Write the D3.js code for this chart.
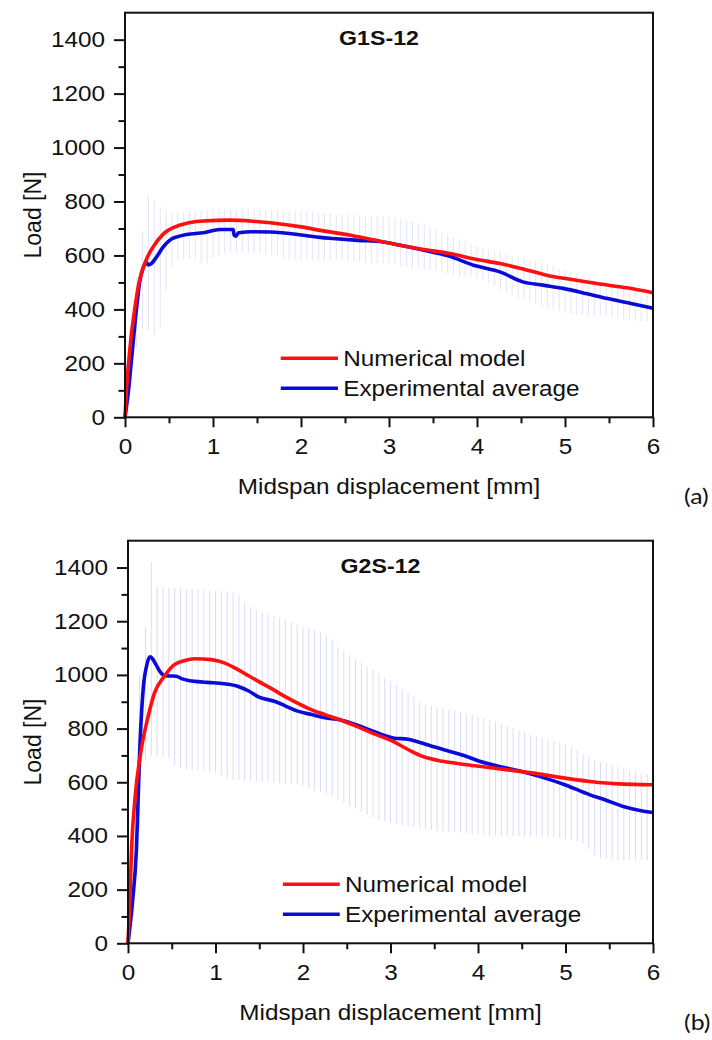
<!DOCTYPE html>
<html>
<head>
<meta charset="utf-8">
<script src="https://cdn.jsdelivr.net/npm/d3@7"></script>
<style>
  html, body { margin: 0; padding: 0; background: #fff; }
  svg { display: block; }
</style>
</head>
<body>
<svg id="chart"></svg>
<script>
// ---- data ----
// error bars: one bar every 1/15 mm, from 1/15 to 6 mm
const barStep = 1 / 15;

// panel (a) G1S-12
const a_hi = [
  290, 520, 690, 820, 800, 780, 770, 760, 758, 762, 765, 766, 768, 770, 772,
  770, 772, 770, 768, 770, 772, 770, 771, 770, 768, 768, 767, 766, 765, 764,
  763, 762, 760, 758, 756, 754, 752, 750, 749, 748, 747, 746, 745, 744, 742,
  738, 735, 731, 726, 722, 714, 706, 698, 688, 676, 668, 660, 652, 642, 634,
  628, 624, 618, 612, 606, 600, 596, 592, 586, 580, 572, 566, 560, 552, 546,
  540, 534, 526, 518, 510, 504, 498, 492, 486, 480, 472, 466, 460, 452, 446
];
const a_lo = [
  110, 260, 330, 320, 310, 330, 470, 560, 580, 585, 590, 585, 575, 570, 590,
  600, 605, 612, 610, 612, 608, 610, 606, 604, 600, 596, 590, 586, 582, 582,
  584, 583, 582, 584, 584, 583, 582, 580, 578, 576, 575, 574, 572, 571, 570,
  567, 563, 558, 554, 550, 548, 546, 544, 540, 534, 528, 524, 522, 520, 518,
  512, 500, 488, 475, 462, 452, 442, 436, 430, 422, 414, 406, 398, 392, 386,
  384, 382, 380, 378, 376, 375, 373, 372, 368, 364, 360, 358, 356, 355, 354
];
const a_modelX = [0, 0.02, 0.04, 0.07, 0.11, 0.16, 0.24, 0.32, 0.44, 0.62, 0.89, 1.19, 1.45, 1.65, 2.0, 2.22, 2.56, 2.9, 3.12, 3.4, 3.69, 4.0, 4.26, 4.5, 4.79, 5.08, 5.36, 5.7, 6.0];
const a_modelY = [0, 120, 200, 300, 400, 500, 583, 632, 681, 712, 728, 731, 727, 721, 706, 693, 675, 653, 638, 622, 607, 585, 570, 552, 527, 511, 496, 480, 462];
const a_expX = [0, 0.04, 0.07, 0.13, 0.17, 0.2, 0.24, 0.265, 0.3, 0.36, 0.43, 0.51, 0.6, 0.7, 0.89, 1.08, 1.23, 1.24, 1.26, 1.29, 1.45, 1.65, 2.03, 2.22, 2.36, 2.65, 2.93, 3.1, 3.31, 3.5, 3.69, 3.96, 4.03, 4.26, 4.52, 4.75, 4.98, 5.25, 5.47, 5.75, 6.0];
const a_expY = [0, 100, 200, 400, 508, 548, 575, 565, 570, 595, 630, 657, 670, 678, 684, 696, 696, 675, 671, 684, 688, 687, 675, 667, 663, 656, 650, 640, 626, 612, 597, 564, 558, 539, 502, 490, 478, 458, 441, 422, 404];

// panel (b) G2S-12
const b_hi = [
  480, 1000, 1180, 1420, 1330, 1326, 1326, 1324, 1322, 1320, 1318, 1316, 1315, 1314, 1312,
  1312, 1311, 1308, 1296, 1270, 1252, 1243, 1236, 1228, 1220, 1212, 1204, 1196, 1188, 1180,
  1174, 1168, 1160, 1150, 1132, 1104, 1088, 1074, 1060, 1046, 1032, 1020, 1004, 990, 976,
  962, 948, 934, 918, 900, 888, 884, 880, 876, 872, 868, 862, 856, 850, 844,
  838, 832, 826, 818, 810, 802, 794, 786, 778, 770, 764, 758, 752, 746, 738,
  728, 718, 706, 694, 684, 676, 670, 664, 658, 652, 646, 640, 634, 630, 626
];
const b_lo = [
  100, 420, 680, 700, 695, 694, 690, 662, 652, 648, 646, 645, 644, 642, 638,
  626, 614, 610, 608, 607, 606, 604, 602, 600, 598, 597, 596, 595, 593, 588,
  578, 570, 564, 558, 548, 536, 524, 512, 500, 490, 480, 470, 462, 455, 448,
  444, 440, 436, 432, 428, 425, 422, 420, 418, 416, 414, 412, 410, 408, 406,
  404, 402, 402, 401, 400, 400, 399, 398, 398, 397, 396, 395, 394, 392, 390,
  386, 380, 370, 350, 330, 318, 314, 312, 311, 310, 310, 310, 310, 310, 310
];
const b_modelX = [0, 0.02, 0.04, 0.08, 0.15, 0.23, 0.3, 0.42, 0.53, 0.65, 0.76, 0.95, 1.1, 1.22, 1.35, 1.49, 1.65, 1.79, 1.95, 2.1, 2.25, 2.42, 2.6, 2.8, 3.03, 3.2, 3.37, 3.6, 3.87, 4.1, 4.32, 4.63, 4.9, 5.28, 5.6, 6.0];
const b_modelY = [0, 150, 347, 540, 719, 845, 930, 997, 1038, 1054, 1060, 1057, 1045, 1026, 1002, 976, 947, 920, 893, 870, 852, 833, 810, 782, 752, 722, 696, 678, 665, 656, 647, 634, 620, 603, 594, 591];
const b_expX = [0, 0.05, 0.096, 0.134, 0.18, 0.21, 0.25, 0.28, 0.32, 0.37, 0.42, 0.48, 0.55, 0.62, 0.69, 0.8, 0.91, 1.1, 1.26, 1.38, 1.49, 1.68, 1.8, 1.95, 2.1, 2.25, 2.42, 2.6, 2.8, 3.03, 3.2, 3.4, 3.6, 3.87, 4.0, 4.3, 4.5, 4.7, 5.0, 5.28, 5.45, 5.66, 5.85, 6.0];
const b_expY = [0, 150, 347, 719, 970, 1030, 1067, 1060, 1038, 1010, 997, 996, 995, 985, 979, 975, 972, 967, 957, 940, 918, 901, 884, 864, 852, 840, 833, 815, 790, 765, 760, 742, 722, 696, 680, 655, 640, 622, 590, 553, 535, 510, 495, 487];

const xTicks = [0, 1, 2, 3, 4, 5, 6];
const yTicks = [0, 200, 400, 600, 800, 1000, 1200, 1400];
const legendNames = ["Numerical model", "Experimental average"];

// ---- drawing ----
const W = 712, H = 1040;
const S = 1.13; // horizontal stretch of the reference lettering
const FONT = "'Liberation Sans', Arial, Helvetica, sans-serif";
const RED = "#ff1010", BLUE = "#0b0bd8", BAND = "#c4c4f4";

const svg = d3.select("#chart")
  .attr("width", W)
  .attr("height", H)
  .attr("viewBox", [0, 0, W, H]);

svg.append("rect").attr("width", W).attr("height", H).attr("fill", "#fff");

function panel({title, tag, hi, lo, modelX, modelY, expX, expY, bandOpacity,
                left, right, top, bottom, tagY, legendY}) {
  const x = d3.scaleLinear([0, 6], [left, right]);
  const y = d3.scaleLinear([0, 1500], [bottom, top]);
  const g = svg.append("g");

  // error bars of the experimental curves
  g.append("g")
    .attr("stroke", BAND)
    .attr("stroke-width", 1)
    .attr("stroke-opacity", bandOpacity)
  .selectAll("line")
  .data(hi.map((h, i) => ({x: (i + 1) * barStep, hi: h, lo: lo[i]})))
  .join("line")
    .attr("x1", d => x(d.x)).attr("x2", d => x(d.x))
    .attr("y1", d => y(d.hi)).attr("y2", d => y(d.lo));

  const line = d3.line()
    .x(d => x(d[0]))
    .y(d => y(d[1]))
    .curve(d3.curveMonotoneX);

  g.append("path")
    .attr("d", line(expX.map((v, i) => [v, expY[i]])))
    .attr("fill", "none").attr("stroke", BLUE).attr("stroke-width", 3.6)
    .attr("stroke-linejoin", "round");
  g.append("path")
    .attr("d", line(modelX.map((v, i) => [v, modelY[i]])))
    .attr("fill", "none").attr("stroke", RED).attr("stroke-width", 3.6)
    .attr("stroke-linejoin", "round");

  // axes
  const yAxis = g.append("g")
    .attr("transform", `translate(${left},0)`)
    .call(d3.axisLeft(y).tickValues(yTicks).tickFormat(d3.format("d"))
      .tickSize(11).tickPadding(20 / S - 11))
    .call(a => a.select(".domain").remove());
  g.append("g")
    .attr("transform", `translate(${left},0)`)
    .call(d3.axisLeft(y).tickValues([100, 300, 500, 700, 900, 1100, 1300]).tickSize(6.5).tickFormat(""))
    .call(a => a.select(".domain").remove());
  const xAxis = g.append("g")
    .attr("transform", `translate(0,${bottom})`)
    .call(d3.axisBottom(x).tickValues(xTicks).tickFormat(d3.format("d"))
      .tickSize(10).tickPadding(11))
    .call(a => a.select(".domain").remove());
  g.append("g")
    .attr("transform", `translate(0,${bottom})`)
    .call(d3.axisBottom(x).tickValues([0.5, 1.5, 2.5, 3.5, 4.5, 5.5]).tickSize(6).tickFormat(""))
    .call(a => a.select(".domain").remove());

  g.selectAll(".tick line").attr("stroke", "#111").attr("stroke-width", 2);
  [yAxis, xAxis].forEach(a => a.selectAll(".tick text")
    .attr("font-family", FONT)
    .attr("font-size", 21.5)
    .attr("fill", "#111")
    .attr("transform", `scale(${S},1)`));

  // frame
  g.append("rect")
    .attr("x", left).attr("y", top)
    .attr("width", right - left).attr("height", bottom - top)
    .attr("fill", "none").attr("stroke", "#111").attr("stroke-width", 2);

  const txt = (px, py, s, opts = {}) => g.append("text")
    .attr("transform", `translate(${px},${py}) scale(${S},1)`)
    .attr("font-family", opts.family || FONT)
    .attr("font-size", opts.size || 21.5)
    .attr("font-weight", opts.weight || "normal")
    .attr("text-anchor", opts.anchor || "start")
    .attr("fill", "#111")
    .text(s);

  txt((left + right) / 2 - 10, top + 32, title, {weight: "bold", anchor: "middle", size: 20.5});
  txt((left + right) / 2, bottom + 77, "Midspan displacement [mm]", {anchor: "middle", size: 21.5});

  g.append("text")
    .attr("transform", `translate(41,${(top + bottom) / 2}) rotate(-90)`)
    .attr("font-family", FONT)
    .attr("font-size", 23)
    .attr("text-anchor", "middle")
    .attr("fill", "#111")
    .text("Load [N]");

  txt(684, tagY, tag, {family: "Lato, 'Open Sans', sans-serif", size: 22, anchor: "start"});

  // legend
  const lg = g.append("g");
  [RED, BLUE].forEach((c, i) => {
    lg.append("line")
      .attr("x1", x(1.77)).attr("x2", x(2.42))
      .attr("y1", legendY + i * 30).attr("y2", legendY + i * 30)
      .attr("stroke", c).attr("stroke-width", 3.6);
    txt(x(2.48), legendY + i * 30 + 7.5, legendNames[i]);
  });
}

panel({
  title: "G1S-12", tag: "(a)",
  hi: a_hi, lo: a_lo, bandOpacity: 0.45,
  modelX: a_modelX, modelY: a_modelY, expX: a_expX, expY: a_expY,
  left: 125, right: 653, top: 12.7, bottom: 417.3, tagY: 504, legendY: 358.3
});

panel({
  title: "G2S-12", tag: "(b)",
  hi: b_hi, lo: b_lo, bandOpacity: 0.6,
  modelX: b_modelX, modelY: b_modelY, expX: b_expX, expY: b_expY,
  left: 128, right: 653, top: 540.7, bottom: 943.3, tagY: 1030, legendY: 884.3
});
</script>
</body>
</html>
